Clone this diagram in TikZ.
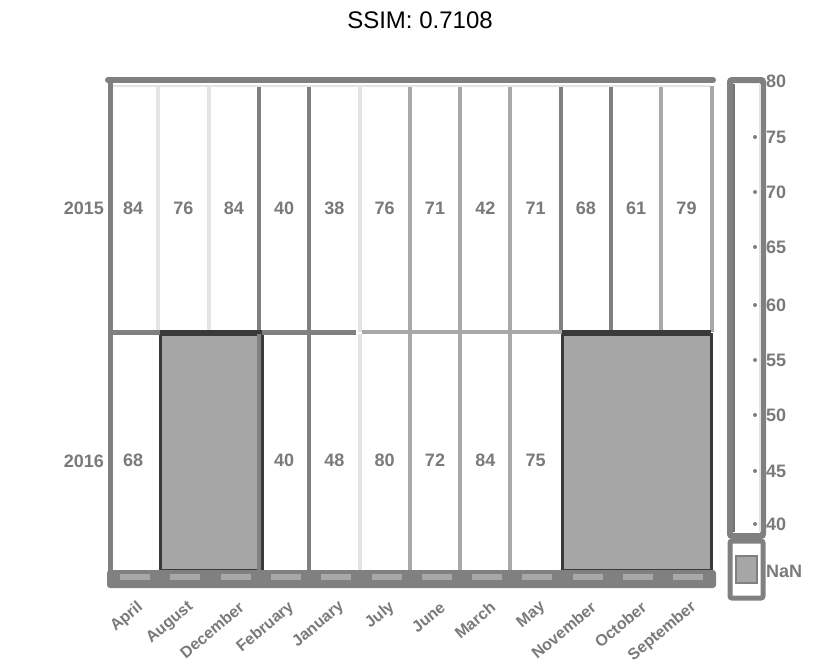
\documentclass[tikz,border=0pt]{standalone}
\usepackage{fontspec}
\setmainfont{Liberation Sans}
\begin{document}
\begin{tikzpicture}[x=1pt,y=-1pt,
  frame/.style={draw=fg, line width=6pt, rounded corners=2pt},
  val/.style={font=\bfseries\fontsize{18}{18}\selectfont, text=txt, inner sep=0pt},
  mon/.style={font=\bfseries\fontsize{16}{16}\selectfont, text=txt, rotate=40, anchor=east, inner sep=0pt},
  nanfill/.style={fill=nan, draw=dk, line width=3pt}]
\definecolor{fg}{HTML}{808080}
\definecolor{txt}{HTML}{7A7A7A}
\definecolor{nan}{HTML}{A6A6A6}
\definecolor{dk}{HTML}{3A3A3A}
\definecolor{lt}{HTML}{E4E4E4}
\definecolor{md}{HTML}{A8A8A8}
\useasboundingbox (0,0) rectangle (840,664);
\fill[white] (0,0) rectangle (840,664);
% title
\node[font=\fontsize{24}{24}\selectfont] (title) at (420,20) {SSIM: 0.7108};
% NaN regions
\draw[nanfill] (160,334) rectangle (262,570);
\draw[nanfill] (562,334) rectangle (711,570);
\draw[dk, line width=3pt] (160,334) -- (160,570);
\draw[dk, line width=3pt] (562,334) -- (562,570);
% column separators
\foreach \k/\c in {1/lt,2/lt,3/fg,4/fg,5/lt,6/md,7/md,8/md,9/fg,10/fg,11/md}{
  \draw[\c, line width=4pt] ({108+50.3*\k},86) -- ({108+50.3*\k},332);
}
\foreach \k/\c in {3/fg,4/fg,5/lt,6/md,7/md,8/md}{
  \draw[\c, line width=4pt] ({108+50.3*\k},334) -- ({108+50.3*\k},570);
}
\draw[md, line width=4pt] (712,86) -- (712,332);
% row separator
\draw[fg, line width=5pt] (110,332) -- (160,332);
\draw[dk, line width=4pt] (160,332) -- (262,332);
\draw[fg, line width=5pt] (262,332) -- (356,332);
\draw[md, line width=4pt] (362,332) -- (562,332);
\draw[dk, line width=4pt] (562,332) -- (711,332);
% frame
\draw[fg, line width=6pt, line cap=round] (108,80) -- (713,80);
\draw[lt, line width=1.5pt] (112,86) -- (710,86);
\draw[fg, line width=5pt] (110,80) -- (110,585);
% bottom strip
\fill[fg, rounded corners=3pt] (107,570) rectangle (716,588);
\foreach \k in {0,...,11}{
  \fill[md] ({120+50.3*\k},574) rectangle ({150+50.3*\k},580);
}
% values
\foreach \v [count=\i from 0] in {84,76,84,40,38,76,71,42,71,68,61,79}{
  \node[val] (a\i) at ({133.2+50.3*\i},208) {\v};
}
\foreach \v/\i in {68/0,40/3,48/4,80/5,72/6,84/7,75/8}{
  \node[val] (b\i) at ({133.2+50.3*\i},460) {\v};
}
% row labels
\node[val, anchor=east] (y15) at (104,208) {2015};
\node[val, anchor=east] (y16) at (104,461) {2016};
% month labels
\foreach \m [count=\i from 0] in {April,August,December,February,January,July,June,March,May,November,October,September}{
  \node[mon] (m\i) at ({141+50.3*\i},605) {\m};
}
% colorbar
\draw[fg, line width=6pt, rounded corners=2pt] (730,80) rectangle (763,536);
\draw[dk!70, line width=2pt] (734,84) -- (734,532);
\draw[lt, line width=2pt] (760,84) -- (760,532);
\draw[fg, line width=5pt, rounded corners=2pt] (730,541) rectangle (763,598);
\fill[nan] (736,556) rectangle (757,583);
\draw[fg, line width=2pt] (736,556) rectangle (757,583);
\foreach \t/\yy [count=\j] in {80/81,75/137,70/192,65/247,60/305,55/360,50/415,45/471,40/524}{
  \fill[fg] (755,\yy) circle (2pt);
  \node[val, anchor=west] (c\j) at (766,\yy) {\t};
}
\node[val, anchor=west] (cnan) at (766,571) {NaN};
\end{tikzpicture}
\end{document}
